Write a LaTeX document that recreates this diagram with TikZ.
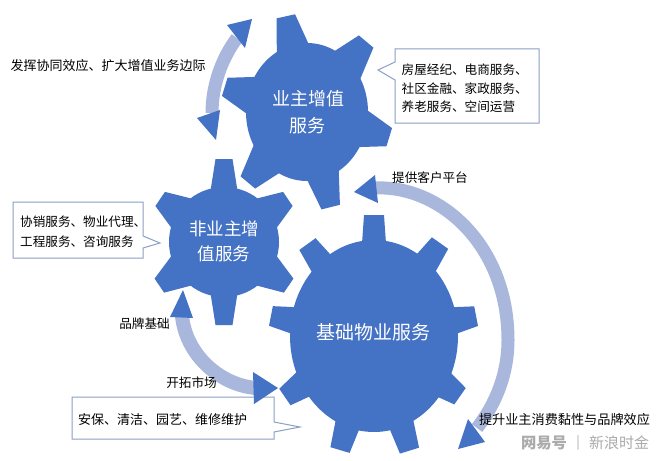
\documentclass[tikz,border=0pt]{standalone}
\usepackage{fontspec}
\setmainfont{Noto Sans CJK SC}
\definecolor{gearblue}{HTML}{4472C4}
\definecolor{bandblue}{HTML}{A9B7DC}
\definecolor{boxline}{HTML}{8C9FC4}
\definecolor{markgray}{HTML}{ABABAB}
\newcommand{\gearteeth}[5]{%
  \foreach \a/\r/\w in {#5}{
    \fill[gearblue,shift={(#1,#2)},rotate=\a] (#3,\w) -- (\r,#4) -- (\r,-#4) -- (#3,-\w) -- cycle;
  }}
\tikzset{
  lbl/.style={inner sep=0pt,font=\fontsize{12.6}{15}\selectfont,text=black,align=left},
  geartext/.style={inner sep=0pt,font=\fontsize{18}{26}\selectfont,text=white,align=center},
  band/.style={draw=bandblue,line width=13pt,line cap=butt},
  head/.style={fill=gearblue},
  callout/.style={draw=boxline,fill=white,line width=1pt,line join=miter}
}
\begin{document}
\begin{tikzpicture}[x=1pt,y=-1pt]
\useasboundingbox[fill=white] (0,0) rectangle (660,460);
% gears
\fill[gearblue] (307,112) ellipse [x radius=61pt,y radius=69pt];
\gearteeth{307}{112}{58}{9.5}{102.5/98/18,50/92/20,-17/86/19,-76/98/18,-130/92/20,163/86/19}
\fill[gearblue] (224,242) circle [radius=55pt];
\gearteeth{224}{242}{48}{8.5}{90/83/14,34/77/19,-34/78/19,-90/83/14,-146/78/19,146/77/19}
\fill[gearblue] (374,336) ellipse [x radius=84pt,y radius=96pt];
\gearteeth{374}{336}{78}{10}{90/121/13,54.6/114/14,11/104/14,-35/105/15,-72.8/120/14,-106.6/119/14,-145.6/108/15,169/105/14,125.9/113.5/14}
% callouts
\draw[callout] (395,49) -- (539,49) -- (539,123) -- (395,123) -- (395,80) -- (378,70) -- (395,62) -- cycle;
\draw[callout] (13,202) -- (143,202) -- (143,236) -- (160,243) -- (143,248) -- (143,258) -- (13,258) -- cycle;
\draw[callout] (72,397) -- (274,397) -- (274,422) -- (300,427) -- (274,432) -- (274,439) -- (72,439) -- cycle;
% bands
\draw[band] (212,113) .. controls (212,85) and (222,58) .. (237,38);
\draw[band] (375,188) .. controls (440,185) and (508,245) .. (508,340) .. controls (508,375) and (495,405) .. (477,428);
\draw[band,line width=14pt] (182,316) .. controls (186,355) and (220,385) .. (256,388);
% arrow heads
\fill[head] (227,25) -- (252,19) -- (245,48) -- cycle;
\fill[head] (220,110) -- (197,118) -- (216,140) -- cycle;
\fill[head] (354,192) -- (375,175) -- (378,203) -- cycle;
\fill[head] (458,449) -- (485,442) -- (468,419) -- cycle;
\fill[head] (183,290) -- (170,317) -- (193,318) -- cycle;
\fill[head] (253,372) -- (278,388) -- (254,404) -- cycle;
% gear labels
\node[geartext] (g1a) at (308,99) {业主增值};
\node[geartext] (g1b) at (307,126) {服务};
\node[geartext,font=\fontsize{17.5}{26}\selectfont] (g2a) at (224,229) {非业主增};
\node[geartext,font=\fontsize{17.5}{26}\selectfont] (g2b) at (224,254) {值服务};
\node[geartext,font=\fontsize{19}{26}\selectfont] (g3) at (373.5,332) {基础物业服务};
% labels
\node[lbl,font=\fontsize{13}{15}\selectfont] (t1) at (108,66) {发挥协同效应、扩大增值业务边际};
\node[lbl,anchor=west] (t2a) at (401.5,70) {房屋经纪、电商服务、};
\node[lbl,anchor=west] (t2b) at (401.5,89) {社区金融、家政服务、};
\node[lbl,anchor=west] (t2c) at (401.5,107) {养老服务、空间运营};
\node[lbl,anchor=west] (t3a) at (20,222) {协销服务、物业代理、};
\node[lbl,anchor=west] (t3b) at (20,242) {工程服务、咨询服务};
\node[lbl] (t4) at (430,178) {提供客户平台};
\node[lbl] (t5) at (144.5,324) {品牌基础};
\node[lbl] (t6) at (191.5,383) {开拓市场};
\node[lbl,font=\fontsize{13}{15}\selectfont] (t7) at (162.5,420) {安保、清洁、园艺、维修维护};
\node[lbl,font=\fontsize{13.15}{15}\selectfont] (t8) at (564.5,419) {提升业主消费黏性与品牌效应};
% watermark
\node[inner sep=0pt,text=markgray,font=\fontsize{15.3}{16}\bfseries\selectfont] (w1) at (544,443) {网易号};
\node[inner sep=0pt,text=markgray,font=\fontsize{13}{14}\selectfont] (w2) at (578,443) {|};
\node[inner sep=0pt,text=markgray,font=\fontsize{15}{16}\selectfont] (w3) at (619,443) {新浪时金};
\end{tikzpicture}
\end{document}
